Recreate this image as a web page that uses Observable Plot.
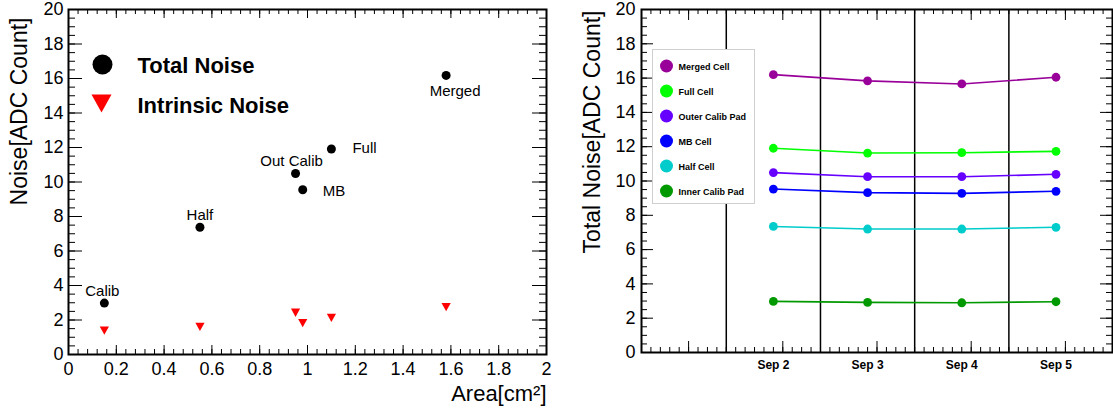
<!DOCTYPE html>
<html><head><meta charset="utf-8">
<script src="https://cdn.jsdelivr.net/npm/d3@7"></script>
<script src="https://cdn.jsdelivr.net/npm/@observablehq/plot@0.6"></script>
<style>
body{margin:0;background:#fff;font-family:"Liberation Sans",Arial,Helvetica,sans-serif;}
#wrap{position:relative;width:1113px;height:412px;display:flex;overflow:hidden;background:#fff}
#legend{position:absolute;left:652px;top:49px;width:103px;height:155px;border:1px solid #cfcfcf;background:#fff;box-sizing:border-box}
.row{position:absolute;left:0;display:flex;align-items:center;transform:translateY(-50%)}
.sw{display:inline-block;width:13px;height:13px;border-radius:50%;margin-left:6.5px;margin-right:6px}
.lb{font-weight:bold;font-size:9px;color:#000;white-space:nowrap}
</style></head><body><div id="wrap"></div>
<script>
// ---- Left panel data ----
const cellTypes = ["Calib", "Half", "Out Calib", "MB", "Full", "Merged"];
const cellArea = [0.15, 0.55, 0.95, 0.98, 1.10, 1.58];
const totalNoise = [2.98, 7.38, 10.49, 9.55, 11.91, 16.18];
const intrinsicNoise = [1.38, 1.60, 2.42, 1.82, 2.12, 2.74];
const leftLegend = ["Total Noise", "Intrinsic Noise"];

// ---- Right panel data ----
const runDates = ["2014-09-02T12:00Z", "2014-09-03T12:00Z", "2014-09-04T12:00Z", "2014-09-05T12:00Z"];
const seriesNames = ["Merged Cell", "Full Cell", "Outer Calib Pad", "MB Cell", "Half Cell", "Inner Calib Pad"];
const mergedCell = [16.20, 15.84, 15.66, 16.05];
const fullCell = [11.91, 11.63, 11.65, 11.73];
const outerCalibPad = [10.49, 10.25, 10.25, 10.39];
const mbCell = [9.53, 9.32, 9.28, 9.40];
const halfCell = [7.35, 7.20, 7.20, 7.30];
const innerCalibPad = [2.98, 2.92, 2.90, 2.96];
const seriesColors = ["#990099", "#00ff00", "#6600ff", "#0000ff", "#00cccc", "#009900"];

const font = '"Liberation Sans", Arial, Helvetica, sans-serif';
const style = {fontFamily: font, color: "black", background: "white", overflow: "visible"};

// inward ticks on all four sides of the frame (fw, fh: frame width/height in px)
function frameTicks(xMaj, xMin, yMaj, yMin, L, fw, fh) {
  const o = {stroke: "black", strokeWidth: 1};
  return [
    Plot.tickX(xMin, {...o, x: d => d, insetTop: fh - L.xm}),
    Plot.tickX(xMaj, {...o, x: d => d, insetTop: fh - L.xM}),
    Plot.tickX(xMin, {...o, x: d => d, insetBottom: fh - L.xm}),
    Plot.tickX(xMaj, {...o, x: d => d, insetBottom: fh - L.xM}),
    Plot.tickY(yMin, {...o, y: d => d, insetRight: fw - L.ym}),
    Plot.tickY(yMaj, {...o, y: d => d, insetRight: fw - L.yM}),
    Plot.tickY(yMin, {...o, y: d => d, insetLeft: fw - L.ym}),
    Plot.tickY(yMaj, {...o, y: d => d, insetLeft: fw - L.yM})
  ];
}

const yMajor = d3.range(11).map(i => i * 2);
const yMinor = d3.range(41).map(i => i * 0.5);

// ---------- LEFT ----------
const idx = d3.range(cellTypes.length);
const xMajorL = d3.range(11).map(i => +(i * 0.2).toFixed(1));
const xMinorL = d3.range(51).map(i => +(i * 0.04).toFixed(2));

const triangleDown = {
  draw(ctx, size) {
    const r = Math.sqrt(size / Math.PI);
    ctx.moveTo(-r, -r * 0.9); ctx.lineTo(r, -r * 0.9); ctx.lineTo(0, r * 0.9); ctx.closePath();
  }
};

// label placement relative to each point: [dx, dy, textAnchor, lineAnchor]
const labelPlace = {
  "Calib": [-2, -7, "middle", "bottom"],
  "Half": [0, -7, "middle", "bottom"],
  "Out Calib": [-4, -8, "middle", "bottom"],
  "MB": [20, 1, "start", "middle"],
  "Full": [21, -1, "start", "middle"],
  "Merged": [9, 10, "middle", "top"]
};

const L = {w: 556, h: 412, ml: 68, mr: 10, mt: 9, mb: 58};
const leftPlot = Plot.plot({
  width: L.w, height: L.h,
  marginLeft: L.ml, marginRight: L.mr, marginTop: L.mt, marginBottom: L.mb,
  x: {domain: [0, 2]}, y: {domain: [0, 20]},
  style,
  marks: [
    Plot.dot(idx, {x: i => cellArea[i], y: i => intrinsicNoise[i], r: 4.6, symbol: triangleDown, fill: "#ff0000", stroke: "none"}),
    Plot.dot(idx, {x: i => cellArea[i], y: i => totalNoise[i], r: 4.5, fill: "black", stroke: "none"}),
    ...idx.map(i => {
      const [dx, dy, ta, la] = labelPlace[cellTypes[i]];
      return Plot.text([i], {x: j => cellArea[j], y: j => totalNoise[j], text: j => cellTypes[j],
        dx, dy, textAnchor: ta, lineAnchor: la, fontSize: 15, fill: "black"});
    }),
    // legend
    Plot.dot([leftLegend[0]], {frameAnchor: "top-left", dx: 34, dy: 55, r: 10, fill: "black", stroke: "none"}),
    Plot.dot([leftLegend[1]], {frameAnchor: "top-left", dx: 33, dy: 94, r: 10, symbol: triangleDown, fill: "#ff0000", stroke: "none"}),
    Plot.text([leftLegend[0]], {frameAnchor: "top-left", text: d => d, dx: 69, dy: 56, textAnchor: "start", lineAnchor: "middle", fontSize: 22, fontWeight: "bold", fill: "black"}),
    Plot.text([leftLegend[1]], {frameAnchor: "top-left", text: d => d, dx: 69, dy: 96, textAnchor: "start", lineAnchor: "middle", fontSize: 22, fontWeight: "bold", fill: "black"}),
    // axes
    ...frameTicks(xMajorL, xMinorL, yMajor, yMinor, {xM: 9, xm: 5, yM: 14, ym: 7}, L.w - L.ml - L.mr, L.h - L.mt - L.mb),
    Plot.axisX(xMajorL, {anchor: "bottom", tickSize: 0, tickPadding: 8, fontSize: 18, tickFormat: d => `${d}`, label: null, fill: "black"}),
    Plot.axisY(yMajor, {anchor: "left", tickSize: 0, tickPadding: 5, fontSize: 18, tickFormat: d => `${d}`, label: null, fill: "black"}),
    Plot.text(["Noise[ADC Count]"], {frameAnchor: "top-left", text: d => d, rotate: -90, textAnchor: "end", lineAnchor: "middle", dx: -49, dy: 8, fontSize: 23, fill: "black"}),
    Plot.text(["Area[cm²]"], {frameAnchor: "bottom-right", text: d => d, textAnchor: "end", lineAnchor: "bottom", dy: 46, fontSize: 22, fill: "black"}),
    Plot.frame({stroke: "black", strokeWidth: 2})
  ]
});

// ---------- RIGHT ----------
const dates = runDates.map(d => new Date(d));
const seriesValues = [mergedCell, fullCell, outerCalibPad, mbCell, halfCell, innerCalibPad];
const rows = seriesNames.flatMap((s, k) => dates.map((d, j) => ({series: s, date: d, value: seriesValues[k][j]})));
const DAY = 864e5;
const dayLines = dates.map(d => d3.utcDay.floor(d));
const tStart = new Date(+dayLines[0] - 0.9 * DAY);
const tEnd = new Date(+tStart + 5 * DAY);
const xMinorR = d3.range(51).map(i => new Date(+tStart + i * 0.1 * DAY));
const xMajorR = d3.range(5).map(i => new Date(+tStart + (i + 0.5) * DAY));

const R = {w: 557, h: 412, ml: 85, mr: 1, mt: 9, mb: 60};
const rightPlot = Plot.plot({
  width: R.w, height: R.h,
  marginLeft: R.ml, marginRight: R.mr, marginTop: R.mt, marginBottom: R.mb,
  x: {type: "utc", domain: [tStart, tEnd]}, y: {domain: [0, 20]},
  color: {domain: seriesNames, range: seriesColors},
  style,
  marks: [
    Plot.ruleX(dayLines, {stroke: "black", strokeWidth: 1.5}),
    Plot.line(rows, {x: "date", y: "value", z: "series", stroke: "series", strokeWidth: 1.6}),
    Plot.dot(rows, {x: "date", y: "value", fill: "series", r: 4.4, stroke: "none"}),
    ...frameTicks(xMajorR, xMinorR, yMajor, yMinor, {xM: 11, xm: 5, yM: 12, ym: 6}, R.w - R.ml - R.mr, R.h - R.mt - R.mb),
    Plot.axisX(dates, {anchor: "bottom", tickSize: 0, tickPadding: 8, fontSize: 12, fontWeight: "bold", tickFormat: d3.utcFormat("%b %-d"), label: null, fill: "black"}),
    Plot.axisY(yMajor, {anchor: "left", tickSize: 0, tickPadding: 6, fontSize: 18, tickFormat: d => `${d}`, label: null, fill: "black"}),
    Plot.text(["Total Noise[ADC Count]"], {frameAnchor: "top-left", text: d => d, rotate: -90, textAnchor: "end", lineAnchor: "middle", dx: -49, dy: 1, fontSize: 23, fill: "black"}),
    Plot.frame({stroke: "black", strokeWidth: 2})
  ]
});

const wrap = document.getElementById("wrap");
wrap.appendChild(leftPlot);
wrap.appendChild(rightPlot);

// legend box for right panel
const lg = document.createElement("div");
lg.id = "legend";
seriesNames.forEach((s, k) => {
  const row = document.createElement("div");
  row.className = "row";
  row.style.top = (16 + 25 * k) + "px";
  const sw = document.createElement("span");
  sw.className = "sw"; sw.style.background = seriesColors[k];
  const lb = document.createElement("span");
  lb.className = "lb"; lb.textContent = s;
  row.appendChild(sw); row.appendChild(lb);
  lg.appendChild(row);
});
wrap.appendChild(lg);
</script></body></html>
